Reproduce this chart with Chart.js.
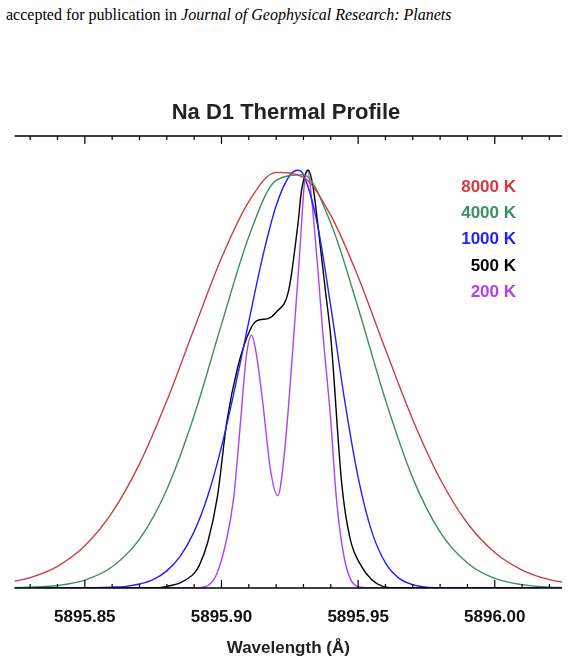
<!DOCTYPE html>
<html>
<head>
<meta charset="utf-8">
<script src="https://cdn.jsdelivr.net/npm/chart.js@4.4.1/dist/chart.umd.min.js"></script>
<style>
  body { margin: 0; background: #fff; }
  #wrap { position: relative; width: 570px; height: 664px; }
  #note { position: absolute; left: 6px; top: 6px; font-family: "Liberation Serif", serif; font-size: 16px; color: #000; white-space: nowrap; }
  canvas { position: absolute; left: 0; top: 0; }
</style>
</head>
<body>
<div id="wrap">
  <div id="note">accepted for publication in <i>Journal of Geophysical Research: Planets</i></div>
  <canvas id="chart" width="570" height="664"></canvas>
</div>
<script>
// wavelengths are given as offsets from 5895 Å
const base = 5895;
const tickLabels = [0.85, 0.90, 0.95, 1.00];

const lam8000 = [0.82,0.83,0.84,0.85,0.86,0.87,0.88,0.89,0.90,0.91,0.92,0.93,0.94,0.95,0.96,0.97,0.98,0.99,1.00,1.01,1.02,1.03];
const val8000 = [0.011,0.025,0.052,0.101,0.181,0.297,0.448,0.621,0.790,0.925,0.995,0.983,0.892,0.745,0.571,0.403,0.261,0.155,0.085,0.043,0.020,0.009];

const lam4000 = [0.82,0.83,0.84,0.85,0.86,0.87,0.88,0.89,0.90,0.91,0.92,0.93,0.94,0.95,0.96,0.97,0.98,0.99,1.00,1.01,1.02,1.03];
const val4000 = [0.0005,0.002,0.006,0.019,0.051,0.117,0.236,0.413,0.631,0.841,0.976,0.989,0.873,0.671,0.450,0.263,0.134,0.060,0.023,0.008,0.002,0.001];

const lam1000 = [0.82,0.85,0.86,0.865,0.87,0.875,0.88,0.885,0.89,0.895,0.90,0.905,0.91,0.915,0.92,0.925,0.928,0.93,0.935,0.94,0.945,0.95,0.955,0.96,0.965,0.97,0.975,0.98,1.0,1.03];
const val1000 = [0,0,0.002,0.004,0.0095,0.020,0.041,0.077,0.135,0.221,0.338,0.481,0.638,0.791,0.915,0.988,1.0,0.989,0.874,0.674,0.452,0.265,0.135,0.060,0.023,0.008,0.002,0.0006,0,0];

const lam500 = [0.82,0.875,0.88,0.885,0.89,0.8918,0.895,0.8985,0.902,0.906,0.9104,0.913,0.917,0.92,0.9246,0.928,0.9293,0.9318,0.9335,0.9352,0.938,0.940,0.944,0.947,0.9514,0.955,0.959,0.965,1.03];
const val500 = [0,0,0.004,0.013,0.035,0.053,0.11,0.218,0.40,0.53,0.617,0.64,0.645,0.66,0.713,0.873,0.952,1.0,0.96,0.873,0.713,0.60,0.25,0.12,0.05,0.02,0.004,0,0];

const lam200 = [0.82,0.89,0.894,0.898,0.902,0.9045,0.907,0.909,0.911,0.9125,0.915,0.918,0.9206,0.923,0.9266,0.9286,0.9305,0.9315,0.933,0.9353,0.937,0.940,0.942,0.945,0.9493,0.955,1.03];
const val200 = [0,0,0.003,0.03,0.12,0.218,0.40,0.55,0.605,0.57,0.45,0.28,0.221,0.32,0.617,0.80,0.98,1.0,0.93,0.76,0.617,0.40,0.218,0.07,0.005,0,0];

const labels = ['8000 K', '4000 K', '1000 K', '500 K', '200 K'];
const colors = ['#d23c3c', '#3a9060', '#1f1fff', '#000000', '#b040f0'];

function pts(lam, val) {
  return lam.map((l, i) => ({ x: base + l, y: val[i] }));
}

const series = [pts(lam8000, val8000), pts(lam4000, val4000), pts(lam1000, val1000), pts(lam500, val500), pts(lam200, val200)];

const FONT = '"Liberation Sans", Arial, sans-serif';

// frame ticks, tick labels, titles and the coloured labels
const decor = {
  id: 'decor',
  afterDraw(chart) {
    const ctx = chart.ctx;
    const area = chart.chartArea;
    const xs = chart.scales.x;
    ctx.save();
    ctx.strokeStyle = '#000';
    ctx.lineWidth = 1.5;
    ctx.beginPath();
    ctx.moveTo(area.left, area.top); ctx.lineTo(area.right, area.top);
    ctx.moveTo(area.left, area.bottom); ctx.lineTo(area.right, area.bottom);
    ctx.stroke();
    ctx.lineWidth = 1.2;
    for (let k = 83; k <= 102; k++) {
      const px = xs.getPixelForValue(base + k / 100);
      const major = k % 5 === 0;
      ctx.beginPath();
      ctx.moveTo(px, area.top); ctx.lineTo(px, area.top + (major ? 8 : 4));
      ctx.moveTo(px, area.bottom); ctx.lineTo(px, area.bottom - (major ? 8 : 4));
      ctx.stroke();
    }
    ctx.textAlign = 'center';
    ctx.textBaseline = 'middle';
    ctx.fillStyle = '#111';
    ctx.font = 'bold 17px ' + FONT;
    tickLabels.forEach(v => {
      ctx.fillText((base + v).toFixed(2), xs.getPixelForValue(base + v), area.bottom + 29);
    });
    ctx.fillStyle = '#222';
    ctx.fillText('Wavelength (Å)', (area.left + area.right) / 2, area.bottom + 60);
    ctx.font = 'bold 22px ' + FONT;
    ctx.fillText('Na D1 Thermal Profile', 286, 113);
    ctx.font = 'bold 17px ' + FONT;
    ctx.textAlign = 'right';
    labels.forEach((t, i) => {
      ctx.fillStyle = colors[i];
      ctx.fillText(t, 516, 187 + i * 26.3);
    });
    ctx.restore();
  }
};

new Chart(document.getElementById('chart'), {
  type: 'scatter',
  data: {
    datasets: series.map((d, i) => ({
      label: labels[i],
      data: d,
      showLine: true,
      borderColor: colors[i],
      borderWidth: 1.4,
      pointRadius: 0,
      cubicInterpolationMode: 'monotone'
    }))
  },
  options: {
    responsive: false,
    animation: false,
    layout: { padding: { left: 14.6, right: 8, top: 136, bottom: 76 } },
    scales: {
      x: {
        type: 'linear',
        min: 5895.8243,
        max: 5896.0246,
        display: false
      },
      y: { min: 0, max: 1.082, display: false }
    },
    plugins: { legend: { display: false }, tooltip: { enabled: false } }
  },
  plugins: [decor]
});
</script>
</body>
</html>
